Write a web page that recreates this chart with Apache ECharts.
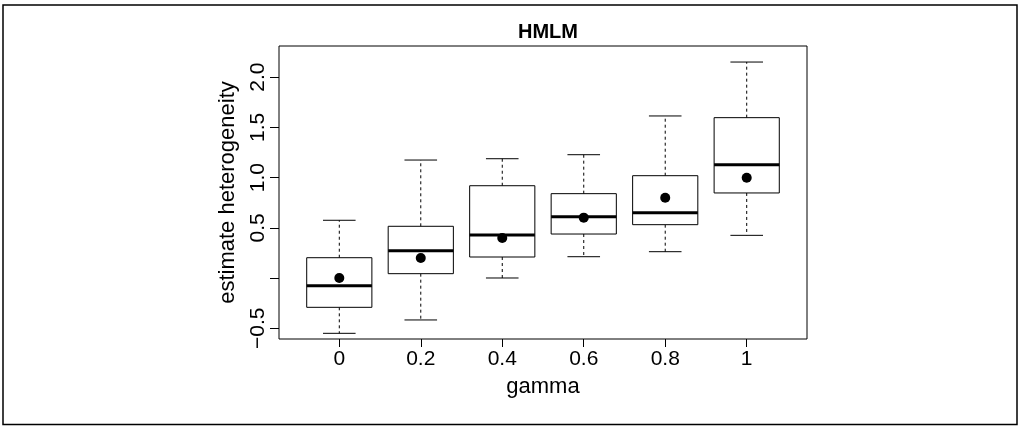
<!DOCTYPE html>
<html>
<head>
<meta charset="utf-8">
<script src="https://cdn.jsdelivr.net/npm/echarts@6/dist/echarts.min.js"></script>
<style>
html,body{margin:0;padding:0;background:#fff;}
#chart{width:1019px;height:426px;}
</style>
</head>
<body>
<div id="chart"></div>
<script>
// ---- data ----
var categories = ['0', '0.2', '0.4', '0.6', '0.8', '1'];
var whiskerLow = [-0.551, -0.418, 0.000, 0.212, 0.262, 0.425];
var q1Values   = [-0.292, 0.043, 0.209, 0.438, 0.531, 0.847];
var medians    = [-0.077, 0.272, 0.428, 0.611, 0.651, 1.129];
var q3Values   = [0.202, 0.515, 0.919, 0.840, 1.019, 1.597];
var whiskerHigh= [0.575, 1.175, 1.188, 1.228, 1.614, 2.151];
var means      = [0.000, 0.199, 0.398, 0.601, 0.800, 0.999];
var outlierCategory = [0, 0];
var outlierValues   = [1.026, 1.208];
var yTickValues = [-0.5, 0, 0.5, 1.0, 1.5, 2.0];
var yTickLabels = ['\u22120.5', '', '0.5', '1.0', '1.5', '2.0'];

// ---- build ----
var boxData = categories.map(function (c, i) {
  return [i + 1, whiskerLow[i], q1Values[i], medians[i], q3Values[i], whiskerHigh[i]];
});
var meanData = categories.map(function (c, i) { return [i + 1, means[i]]; });
var outlierData = outlierValues.map(function (v, i) { return [outlierCategory[i] + 1, v]; });
var xTickPositions = categories.map(function (c, i) { return i + 1; });

var FONT = 'Liberation Sans, Arial, Helvetica, sans-serif';
var chart = echarts.init(document.getElementById('chart'), null, {renderer: 'canvas'});

function renderBox(params, api) {
  var x = api.value(0);
  var lo = api.coord([x, api.value(1)]);
  var q1 = api.coord([x, api.value(2)]);
  var md = api.coord([x, api.value(3)]);
  var q3 = api.coord([x, api.value(4)]);
  var hi = api.coord([x, api.value(5)]);
  var half = api.size([0.4, 0])[0];
  var cap = api.size([0.2, 0])[0];
  var cx = md[0];
  var lineStyle = {stroke: '#000', lineWidth: 1};
  var dashStyle = {stroke: '#000', lineWidth: 1, lineDash: [3, 3]};
  return {
    type: 'group',
    children: [
      {type: 'line', shape: {x1: cx, y1: q3[1], x2: cx, y2: hi[1]}, style: dashStyle},
      {type: 'line', shape: {x1: cx, y1: q1[1], x2: cx, y2: lo[1]}, style: dashStyle},
      {type: 'line', shape: {x1: cx - cap, y1: hi[1], x2: cx + cap, y2: hi[1]}, style: lineStyle},
      {type: 'line', shape: {x1: cx - cap, y1: lo[1], x2: cx + cap, y2: lo[1]}, style: lineStyle},
      {type: 'rect', shape: {x: cx - half, y: q3[1], width: half * 2, height: q1[1] - q3[1]},
        style: {fill: '#fff', stroke: '#000', lineWidth: 1}},
      {type: 'line', shape: {x1: cx - half, y1: md[1], x2: cx + half, y2: md[1]},
        style: {stroke: '#000', lineWidth: 3}}
    ]
  };
}

var option = {
  animation: false,
  backgroundColor: '#fff',
  title: {
    text: 'HMLM',
    left: 543,
    textAlign: 'center',
    top: 17,
    textStyle: {fontFamily: FONT, fontSize: 20, fontWeight: 'bold', color: '#000'}
  },
  grid: {
    left: 279, top: 46, width: 528, height: 293,
    show: true, borderColor: '#000', borderWidth: 1, backgroundColor: 'transparent'
  },
  xAxis: {
    type: 'value',
    min: 0.26, max: 6.74,
    name: 'gamma',
    nameLocation: 'middle',
    nameGap: 37,
    nameTextStyle: {fontFamily: FONT, fontSize: 22, color: '#000'},
    splitLine: {show: false},
    axisLine: {show: false, onZero: false},
    axisTick: {show: true, length: 8, customValues: xTickPositions, lineStyle: {color: '#000', width: 1}},
    axisLabel: {
      customValues: xTickPositions,
      fontFamily: FONT, fontSize: 21, color: '#000', margin: 10,
      formatter: function (v) { return categories[Math.round(v) - 1]; }
    }
  },
  yAxis: {
    type: 'value',
    min: -0.6076, max: 2.3108,
    name: 'estimate heterogeneity',
    nameLocation: 'middle',
    nameGap: 40,
    nameTextStyle: {fontFamily: FONT, fontSize: 22, color: '#000'},
    splitLine: {show: false},
    axisLine: {show: false, onZero: false},
    axisTick: {show: true, length: 9, customValues: yTickValues, lineStyle: {color: '#000', width: 1}},
    axisLabel: {
      customValues: yTickValues,
      rotate: 90,
      fontFamily: FONT, fontSize: 21, color: '#000', margin: 10,
      formatter: function (v) {
        var idx = yTickValues.findIndex(function (t) { return Math.abs(t - v) < 1e-6; });
        return idx >= 0 ? yTickLabels[idx] : '';
      }
    }
  },
  graphic: [{
    type: 'rect', silent: true,
    shape: {x: 3, y: 5, width: 1014, height: 419.5},
    style: {fill: 'none', stroke: '#000', lineWidth: 1.5}
  }],
  series: [
    {
      type: 'custom',
      renderItem: renderBox,
      data: boxData,
      encode: {x: 0, y: [1, 2, 3, 4, 5]},
      z: 2
    },
    {
      type: 'scatter',
      data: meanData,
      symbol: 'circle', symbolSize: 10,
      itemStyle: {color: '#000', opacity: 1},
      z: 3
    },
    {
      type: 'scatter',
      data: outlierData,
      symbol: 'emptyCircle', symbolSize: 5,
      itemStyle: {color: '#fff', borderColor: '#000', borderWidth: 1, opacity: 1},
      z: 3
    }
  ]
};
chart.setOption(option);
</script>
</body>
</html>
